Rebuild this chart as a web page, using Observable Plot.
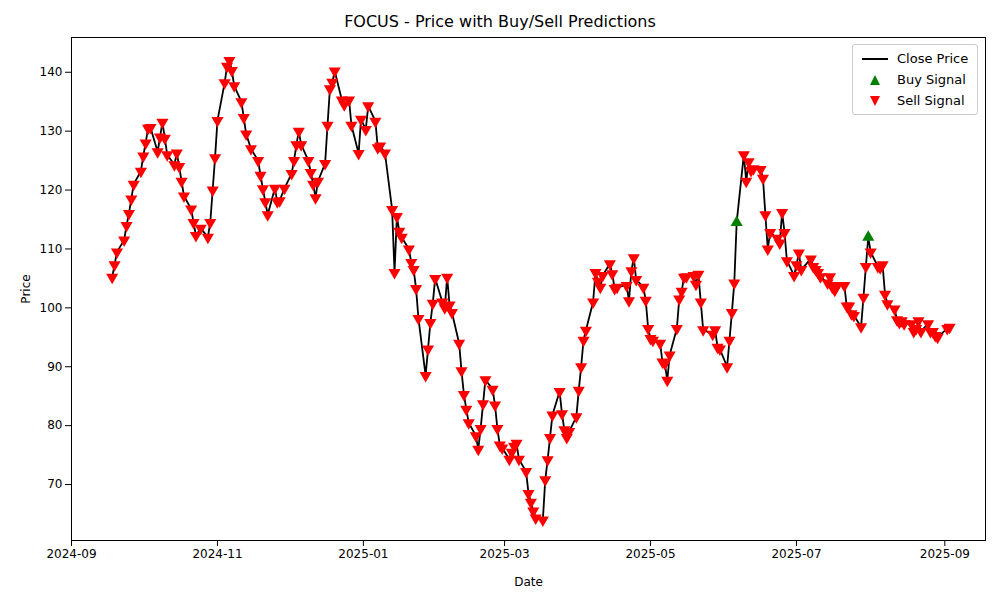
<!DOCTYPE html>
<html>
<head>
<meta charset="utf-8">
<script src="https://cdn.jsdelivr.net/npm/d3@7"></script>
<script src="https://cdn.jsdelivr.net/npm/@observablehq/plot@0.6"></script>
<style>
body{margin:0;background:#fff;font-family:"DejaVu Sans",sans-serif;}
#wrap{position:relative;width:1000px;height:600px;}
#title{height:30px;line-height:44px;text-align:center;font-size:16px;}
#legend{position:absolute;left:852px;top:44px;width:124px;border:1px solid #ccc;border-radius:3px;background:#fff;font-size:13px;padding:3px 0;}
#legend div{height:21px;line-height:21px;display:flex;align-items:center;}
#legend span.k{width:44px;display:inline-flex;justify-content:center;}
</style>
</head>
<body>
<div id="wrap">
<div id="title">FOCUS - Price with Buy/Sell Predictions</div>
<div id="chart"></div>
<div id="legend">
<div><span class="k"><svg width="30" height="4"><line x1="2" x2="28" y1="2" y2="2" stroke="black" stroke-width="2"/></svg></span>Close Price</div>
<div><span class="k"><svg width="12" height="12"><path d="M6,1L11,11L1,11Z" fill="green"/></svg></span>Buy Signal</div>
<div><span class="k"><svg width="12" height="12"><path d="M1,1L11,1L6,11Z" fill="red"/></svg></span>Sell Signal</div>
</div>
</div>
<script>
const dates = [
"2024-09-18","2024-09-19","2024-09-20","2024-09-23","2024-09-24","2024-09-25","2024-09-26","2024-09-27","2024-09-30",
"2024-10-01","2024-10-02","2024-10-03","2024-10-04","2024-10-07","2024-10-08","2024-10-09","2024-10-10","2024-10-11","2024-10-14","2024-10-15","2024-10-16","2024-10-17","2024-10-18","2024-10-21","2024-10-22","2024-10-23","2024-10-25","2024-10-28","2024-10-29","2024-10-30","2024-10-31",
"2024-11-01","2024-11-04","2024-11-05","2024-11-06","2024-11-07","2024-11-08","2024-11-11","2024-11-12","2024-11-13","2024-11-15","2024-11-18","2024-11-19","2024-11-20","2024-11-21","2024-11-22","2024-11-25","2024-11-26","2024-11-27","2024-11-29",
"2024-12-02","2024-12-03","2024-12-04","2024-12-05","2024-12-06","2024-12-09","2024-12-10","2024-12-11","2024-12-12","2024-12-13","2024-12-16","2024-12-17","2024-12-18","2024-12-19","2024-12-20","2024-12-23","2024-12-24","2024-12-26","2024-12-27","2024-12-30","2024-12-31",
"2025-01-02","2025-01-03","2025-01-06","2025-01-07","2025-01-08","2025-01-10","2025-01-13","2025-01-14","2025-01-15","2025-01-16","2025-01-17","2025-01-20","2025-01-21","2025-01-22","2025-01-23","2025-01-24","2025-01-27","2025-01-28","2025-01-29","2025-01-30","2025-01-31",
"2025-02-03","2025-02-04","2025-02-05","2025-02-06","2025-02-07","2025-02-10","2025-02-11","2025-02-12","2025-02-13","2025-02-14","2025-02-17","2025-02-18","2025-02-19","2025-02-20","2025-02-21","2025-02-24","2025-02-25","2025-02-26","2025-02-27","2025-02-28",
"2025-03-03","2025-03-04","2025-03-05","2025-03-06","2025-03-07","2025-03-10","2025-03-11","2025-03-12","2025-03-13","2025-03-14","2025-03-17","2025-03-18","2025-03-19","2025-03-20","2025-03-21","2025-03-24","2025-03-25","2025-03-26","2025-03-27","2025-03-28","2025-03-31",
"2025-04-01","2025-04-02","2025-04-03","2025-04-04","2025-04-07","2025-04-08","2025-04-09","2025-04-10","2025-04-11","2025-04-14","2025-04-15","2025-04-16","2025-04-17","2025-04-21","2025-04-22","2025-04-23","2025-04-24","2025-04-25","2025-04-28","2025-04-29","2025-04-30",
"2025-05-01","2025-05-02","2025-05-05","2025-05-06","2025-05-07","2025-05-08","2025-05-09","2025-05-12","2025-05-13","2025-05-14","2025-05-15","2025-05-16","2025-05-19","2025-05-20","2025-05-21","2025-05-22","2025-05-23","2025-05-27","2025-05-28","2025-05-29","2025-05-30",
"2025-06-02","2025-06-03","2025-06-04","2025-06-05","2025-06-06","2025-06-09","2025-06-10","2025-06-11","2025-06-12","2025-06-13","2025-06-16","2025-06-17","2025-06-18","2025-06-19","2025-06-20","2025-06-23","2025-06-24","2025-06-25","2025-06-26","2025-06-27","2025-06-30",
"2025-07-01","2025-07-02","2025-07-03","2025-07-07","2025-07-08","2025-07-09","2025-07-10","2025-07-11","2025-07-14","2025-07-15","2025-07-16","2025-07-17","2025-07-18","2025-07-21","2025-07-22","2025-07-23","2025-07-24","2025-07-25","2025-07-28","2025-07-29","2025-07-30","2025-07-31",
"2025-08-01","2025-08-04","2025-08-05","2025-08-06","2025-08-07","2025-08-08","2025-08-11","2025-08-12","2025-08-13","2025-08-14","2025-08-15","2025-08-18","2025-08-19","2025-08-20","2025-08-21","2025-08-22","2025-08-25","2025-08-26","2025-08-27","2025-08-28","2025-08-29","2025-09-02","2025-09-03"
];
const closes = [
105.2,107.3,109.5,111.5,114,116,118.5,121,123.2,
125.8,128,130.5,130.6,126.5,129,131.5,128.8,126,124.3,126.3,124,121.5,119,116.8,114.5,112.3,113.5,112,114.5,120,125.5,
131.8,138.2,141,142,140.3,137.7,135,132.3,129.5,127,125,122.5,120.2,118,115.8,120.3,118,118.2,120.3,
122.8,125,127.7,130,127.7,125,123,121,118.7,121.5,124.5,131,137.2,138.3,140.2,135.3,134.5,135.3,131,126.2,132,
130.3,134.3,131.7,127.2,127.5,126.3,116.7,106,115.5,113,112,110,107.7,106.5,103.3,98.2,88.5,93,97.5,100.8,105,
101,100,105.2,100.5,99.2,94,89.3,85.3,82.8,80.5,78.3,76,79.5,83.7,87.8,86.2,83.5,79.5,76.7,76.2,
74.3,75.5,76.5,77,74.3,72.2,68.5,67,65.5,64.3,64,70.8,74.2,78,81.8,85.8,82,79.3,78,79,81.5,
86,90,94.5,96.2,101,106,104.5,103.5,105.5,107.5,105.8,103.3,103.5,103.8,101.2,106.3,108.5,104.8,103.5,101.3,96.5,
94.8,94.5,94,90.8,90.5,87.7,92,96.5,101.5,102.8,105.2,105.3,105.5,104,105.7,101,96.3,95.5,96.3,93.3,93,
90,94.5,99.2,104.2,114.5,126,121.5,124.8,123.3,123.6,123.5,122,115.8,110,112.8,111.8,111,116.2,112.8,108,105.5,
107.3,109.3,106.5,108.3,107,106.5,106,105.3,104.2,105.3,103.5,103,103.8,103.8,100.3,100.3,99,98.7,96.8,101.8,107,112,
109.5,107,106.8,107.3,102.3,100.7,99.8,98,97.5,97.8,97.3,97.3,96,96.5,97.8,96,97.3,96,96,95.3,95,96.5,96.7
];
const buyDates = ["2025-06-06","2025-07-31"];

const data = dates.map((d, i) => ({date: new Date(d), close: closes[i], buy: buyDates.includes(d)}));
const buys = data.filter(d => d.buy);
const sells = data.filter(d => !d.buy);

const chart = Plot.plot({
  width: 1000,
  height: 570,
  marginTop: 7,
  marginBottom: 60,
  marginLeft: 71,
  marginRight: 15,
  style: {fontFamily: "DejaVu Sans", fontSize: "12px", color: "black"},
  x: {type: "utc", domain: [new Date("2024-09-01"), new Date("2025-09-18")],
      ticks: d3.utcMonth.every(2), tickFormat: d3.utcFormat("%Y-%m"), label: "Date", labelAnchor: "center", labelArrow: "none", labelOffset: 45},
  y: {domain: [60.5, 145.9], ticks: [70,80,90,100,110,120,130,140], label: "Price", labelAnchor: "center", labelArrow: "none", labelOffset: 50},
  marks: [
    Plot.frame({stroke: "black"}),
    Plot.line(data, {x: "date", y: "close", stroke: "black", strokeWidth: 1.8}),
    Plot.dot(buys, {x: "date", y: "close", symbol: "triangle", fill: "green", r: 4.5}),
    Plot.dot(sells, {x: "date", y: "close", symbol: "triangle", rotate: 180, fill: "red", r: 4.5})
  ]
});
document.getElementById("chart").append(chart);
</script>
</body>
</html>
